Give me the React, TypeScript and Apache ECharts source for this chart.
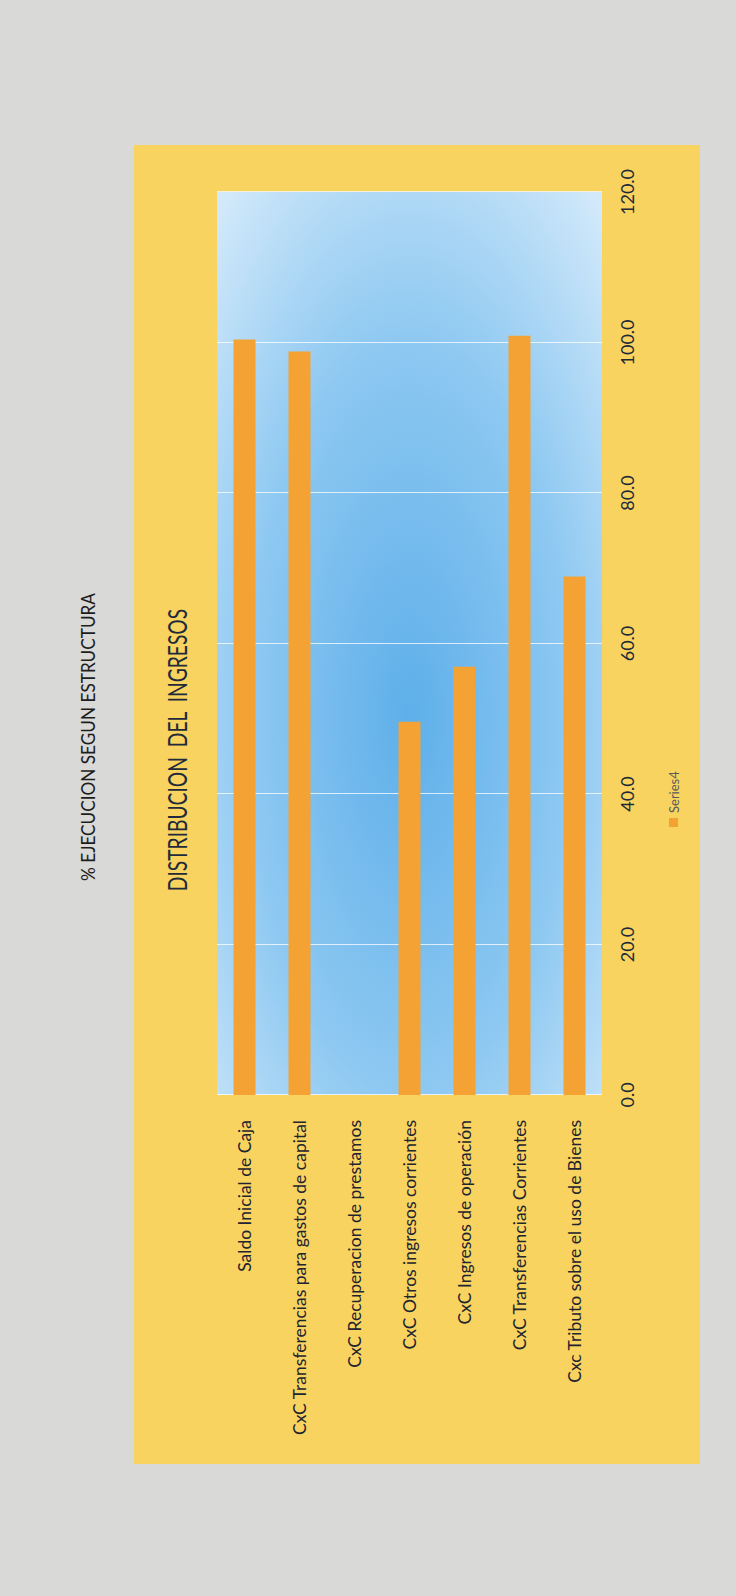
import React, { useEffect, useRef } from "react";
import * as echarts from "echarts";

const categories = [
  "Saldo Inicial de Caja",
  "CxC Transferencias para gastos de capital",
  "CxC Recuperacion de prestamos",
  "CxC Otros ingresos corrientes",
  "CxC Ingresos de operación",
  "CxC Transferencias Corrientes",
  "Cxc Tributo sobre el uso de Bienes",
];
const series4 = [100.4, 98.8, 0, 49.6, 56.9, 100.9, 68.9];
const valueTicks = { min: 0, max: 120, interval: 20 };
const chartTitle = "DISTRIBUCION  DEL  INGRESOS";
const pageHeader = "% EJECUCION SEGUN ESTRUCTURA";
const seriesName = "Series4";

const FONT = "Lato, 'Open Sans', sans-serif";

export default function App() {
  const ref = useRef<HTMLDivElement>(null);
  useEffect(() => {
    if (!ref.current) return;
    const chart = echarts.init(ref.current, undefined, { renderer: "svg" });
    chart.setOption({
      animation: false,
      backgroundColor: "transparent",
      textStyle: { fontFamily: FONT },
      graphic: [
        {
          type: "rect",
          z: -10,
          shape: { x: 132, y: 134, width: 1319, height: 566 },
          style: { fill: "#F8D35F" },
        },
        {
          type: "text",
          x: 859,
          y: 87,
          scaleX: 0.86,
          style: {
            text: pageHeader,
            font: "normal 20px " + FONT,
            fill: "#1d1d1d",
            textAlign: "center",
            textVerticalAlign: "middle",
          },
        },
        {
          type: "text",
          x: 846,
          y: 177,
          scaleX: 0.74,
          style: {
            text: chartTitle,
            font: "normal 26px " + FONT,
            fill: "#1f2b3a",
            textAlign: "center",
            textVerticalAlign: "middle",
          },
        },
      ],
      legend: {
        left: 764,
        top: 662,
        itemWidth: 9,
        itemHeight: 9,
        icon: "rect",
        textStyle: { fontFamily: FONT, fontSize: 13, color: "#5a5a5a" },
        data: [seriesName],
      },
      grid: {
        left: 501,
        top: 217,
        width: 903,
        height: 385,
        show: true,
        borderWidth: 0,
        backgroundColor: new echarts.graphic.RadialGradient(0.42, 0.5, 0.75, [
          { offset: 0, color: "#5EAFEA" },
          { offset: 0.55, color: "#8DC8F1" },
          { offset: 1, color: "#D2E9FA" },
        ]),
      },
      xAxis: {
        type: "value",
        min: valueTicks.min,
        max: valueTicks.max,
        interval: valueTicks.interval,
        axisLine: { show: false },
        axisTick: { show: false },
        axisLabel: {
          margin: 16,
          fontFamily: FONT,
          fontSize: 18,
          color: "#1e2a38",
          formatter: (v: number) => v.toFixed(1),
        },
        splitLine: { show: true, lineStyle: { color: "rgba(255,255,255,0.75)", width: 1 } },
      },
      yAxis: {
        type: "category",
        inverse: true,
        data: categories,
        axisLine: { show: false },
        axisTick: { show: false },
        axisLabel: {
          margin: 25,
          fontFamily: FONT,
          fontSize: 17.5,
          color: "#1e2430",
        },
      },
      series: [
        {
          name: seriesName,
          type: "bar",
          data: series4,
          barWidth: 22,
          itemStyle: { color: "#F3A233" },
        },
      ],
    });
    return () => chart.dispose();
  }, []);

  return (
    <div
      style={{
        position: "fixed",
        left: 0,
        top: 0,
        width: 736,
        height: 1596,
        overflow: "hidden",
        background: "#D9D9D8",
      }}
    >
      <div
        ref={ref}
        style={{
          position: "absolute",
          width: 1596,
          height: 736,
          left: -430,
          top: 430,
          transform: "rotate(-90deg)",
          transformOrigin: "50% 50%",
        }}
      />
    </div>
  );
}
